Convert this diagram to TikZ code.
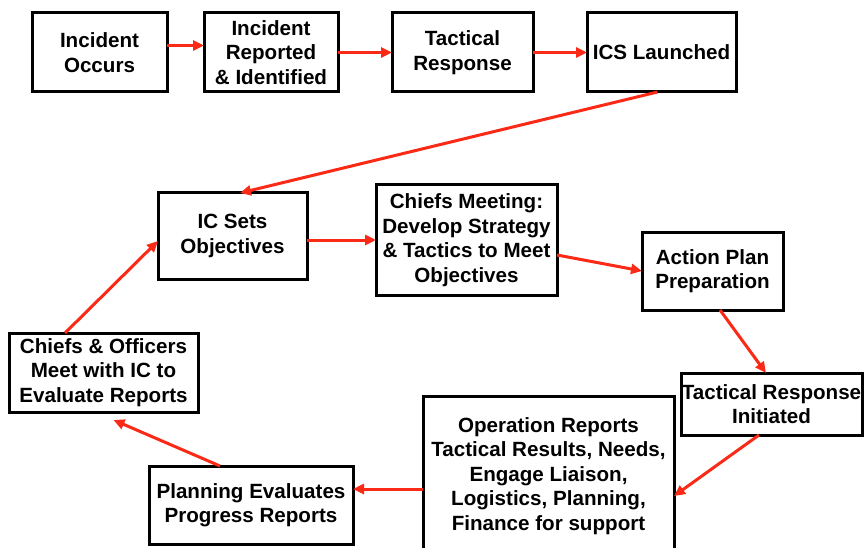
\documentclass[tikz,border=0pt]{standalone}
\usepackage{fontspec}
\setmainfont{Liberation Sans}
\usetikzlibrary{positioning,arrows.meta}
\definecolor{flowred}{RGB}{250,42,22}

\begin{document}
\begin{tikzpicture}[x=1pt,y=1pt,
                    stage/.style={draw,line width=3pt,align=center,inner sep=0pt,
                                  outer sep=0pt,
                                  font=\fontsize{20.6}{24.5}\selectfont\bfseries},
                    flow/.style={draw=flowred,line width=3pt,
                                 -{Triangle[length=11pt,width=10pt]}}]
  \useasboundingbox (0,0) rectangle (864,-548);
  \clip (0,0) rectangle (864,-548);
  % top row
  \node[stage,minimum width=135,minimum height=79] (occurs) at (99.5,-52.5)
       {Incident\\Occurs};
  \node[stage,minimum width=134,minimum height=79,right=37pt of occurs] (reported)
       {Incident\\Reported\\\& Identified};
  \node[stage,minimum width=141,minimum height=79,right=54pt of reported] (tactical)
       {Tactical\\Response};
  \node[stage,minimum width=149,minimum height=79,right=54pt of tactical] (launched)
       {ICS Launched};
  % planning cycle
  \node[stage,minimum width=149,minimum height=86] (objectives) at (232.5,-236)
       {IC Sets\\Objectives};
  \node[stage,minimum width=181,minimum height=110] (meeting) at (466.5,-240)
       {Chiefs Meeting:\\Develop Strategy\\\& Tactics to Meet\\Objectives};
  \node[stage,minimum width=141,minimum height=78] (plan) at (712.5,-271)
       {Action Plan\\Preparation};
  \node[stage,minimum width=181,minimum height=62] (initiated) at (771.5,-404)
       {Tactical Response\\Initiated};
  \node[stage,minimum width=251,minimum height=160] (opreports) at (548.5,-476)
       {Operation Reports\\Tactical Results, Needs,\\Engage Liaison,\\Logistics, Planning,\\Finance for support};
  \node[stage,minimum width=204,minimum height=78] (progress) at (251,-505)
       {Planning Evaluates\\Progress Reports};
  \node[stage,minimum width=189,minimum height=79] (evaluate) at (103.5,-372.5)
       {Chiefs \& Officers\\Meet with IC to\\Evaluate Reports};

  \draw[flow] ([yshift=7pt]occurs.east) -- ([yshift=7pt]reported.west);
  \draw[flow] (reported) -- (tactical);
  \draw[flow] (tactical) -- (launched);
  \draw[flow] ([xshift=-4pt]launched.south) -- ([xshift=7.5pt]objectives.north);
  \draw[flow] ([yshift=-4pt]objectives.east) -- ([yshift=-4pt]objectives.east -| meeting.west);
  \draw[flow] ([yshift=-15pt]meeting.east) -- (plan.west);
  \draw[flow] ([xshift=7.5pt]plan.south) -- ([xshift=-5.5pt]initiated.north);
  \draw[flow] ([xshift=-12.5pt]initiated.south) -- ([yshift=-20pt]opreports.east);
  \draw[flow] ([yshift=-13pt]opreports.west) -- ([yshift=-13pt]opreports.west -| progress.east);
  \draw[flow] ([xshift=-31pt]progress.north) -- ([shift={(10pt,-8pt)}]evaluate.south);
  \draw[flow] ([xshift=-38.5pt]evaluate.north) -- ([yshift=-5pt]objectives.west);
\end{tikzpicture}
\end{document}
